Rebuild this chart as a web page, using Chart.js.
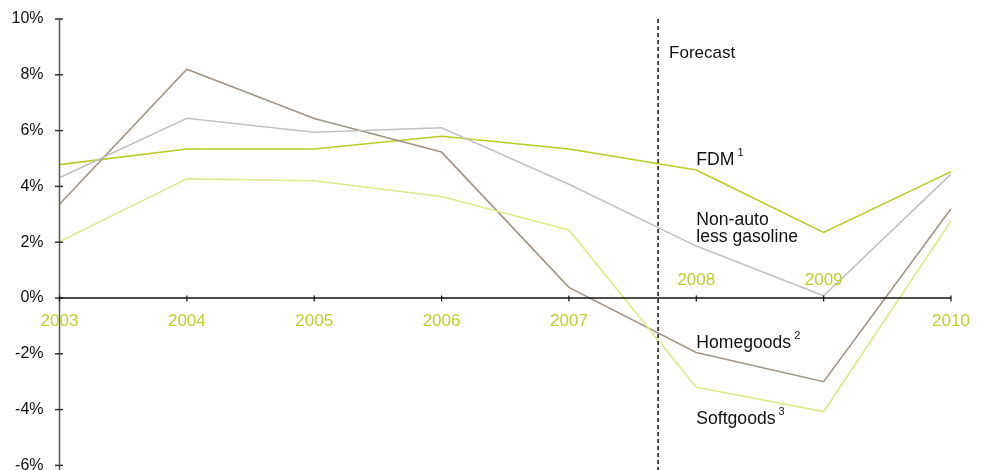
<!DOCTYPE html>
<html>
<head>
<meta charset="utf-8">
<script src="https://cdn.jsdelivr.net/npm/chart.js@4.4.1/dist/chart.umd.min.js"></script>
<style>
html,body{margin:0;padding:0;background:#fff;overflow:hidden;}
canvas{display:block;}
</style>
</head>
<body>
<canvas id="c" width="987" height="470"></canvas>
<script>
const years = ['2003','2004','2005','2006','2007','2008','2009','2010'];
const fdm = [4.78, 5.34, 5.34, 5.80, 5.34, 4.59, 2.35, 4.53];
const nonAuto = [4.31, 6.44, 5.94, 6.10, 4.08, 1.86, 0.08, 4.44];
const homegoods = [3.36, 8.20, 6.43, 5.23, 0.38, -1.95, -3.00, 3.20];
const softgoods = [2.02, 4.27, 4.20, 3.64, 2.44, -3.20, -4.07, 2.76];
const yTicks = [-6, -4, -2, 0, 2, 4, 6, 8, 10];
const forecastAt = 4.7;
const yearsAbove = ['2008','2009'];

const FONT = '"Liberation Sans", Arial, Helvetica, sans-serif';
const YEAR_COLOR = '#bfcf2e';

const overlay = {
  id: 'overlay',
  afterDraw(chart) {
    const ctx = chart.ctx;
    const x = chart.scales.x, y = chart.scales.y;
    const ca = chart.chartArea;
    const y0 = y.getPixelForValue(0);
    ctx.save();
    // y axis
    ctx.strokeStyle = '#555';
    ctx.lineWidth = 1.5;
    ctx.beginPath();
    ctx.moveTo(ca.left, ca.top);
    ctx.lineTo(ca.left, chart.height);
    ctx.stroke();
    ctx.strokeStyle = '#333';
    yTicks.forEach(v => {
      const py = y.getPixelForValue(v);
      ctx.beginPath();
      ctx.moveTo(ca.left - 4.5, py);
      ctx.lineTo(ca.left + 3.5, py);
      ctx.stroke();
    });
    // x axis at zero
    ctx.strokeStyle = '#111';
    ctx.lineWidth = 1.5;
    ctx.beginPath();
    ctx.moveTo(ca.left, y0);
    ctx.lineTo(ca.right, y0);
    ctx.stroke();
    ctx.lineWidth = 1.2;
    years.forEach((yr, i) => {
      const px = x.getPixelForValue(i);
      ctx.beginPath();
      ctx.moveTo(px, y0 - 2.5);
      ctx.lineTo(px, y0 + 3.5);
      ctx.stroke();
    });
    // year labels
    ctx.fillStyle = YEAR_COLOR;
    ctx.font = '17px ' + FONT;
    ctx.textAlign = 'center';
    ctx.textBaseline = 'alphabetic';
    years.forEach((yr, i) => {
      const px = x.getPixelForValue(i);
      if (yearsAbove.includes(yr)) ctx.fillText(yr, px, y0 - 13);
      else ctx.fillText(yr, px, y0 + 28);
    });
    // forecast divider
    const fx = x.getPixelForValue(forecastAt);
    ctx.strokeStyle = '#111';
    ctx.lineWidth = 1.5;
    ctx.setLineDash([4, 3]);
    ctx.beginPath();
    ctx.moveTo(fx, ca.top);
    ctx.lineTo(fx, chart.height);
    ctx.stroke();
    ctx.setLineDash([]);
    // annotations
    ctx.fillStyle = '#111';
    ctx.textAlign = 'left';
    ctx.font = '17px ' + FONT;
    ctx.fillText('Forecast', fx + 11, 58);
    const lx = x.getPixelForValue(5);
    const label = (txt, sup, bx, by) => {
      ctx.font = '17.6px ' + FONT;
      ctx.fillText(txt, bx, by);
      if (sup) {
        const w = ctx.measureText(txt).width;
        ctx.font = '11px ' + FONT;
        ctx.fillText(sup, bx + w + 3, by - 9);
      }
    };
    label('FDM', '1', lx, 165);
    label('Non-auto', '', lx, 225);
    label('less gasoline', '', lx, 242);
    label('Homegoods', '2', lx, 348);
    label('Softgoods', '3', lx, 424);
    ctx.restore();
  }
};

const mk = (label, data, color) => ({
  label, data, borderColor: color, backgroundColor: color,
  borderWidth: 1.6, pointRadius: 0, tension: 0, fill: false
});

new Chart(document.getElementById('c'), {
  type: 'line',
  data: {
    labels: years,
    datasets: [
      mk('Softgoods', softgoods, '#dfe98e'),
      mk('Non-auto less gasoline', nonAuto, '#c2c2c2'),
      mk('Homegoods', homegoods, '#a09488'),
      mk('FDM', fdm, '#bccb24')
    ]
  },
  options: {
    responsive: false,
    animation: false,
    events: [],
    layout: { padding: { top: 19, right: 36, bottom: 4.6, left: 0 } },
    plugins: { legend: { display: false }, tooltip: { enabled: false } },
    scales: {
      x: { type: 'category', display: false, offset: false },
      y: {
        min: -6, max: 10,
        afterFit(s) { s.width = 59.5; s.paddingTop = 0; s.paddingBottom = 0; },
        afterBuildTicks(s) { s.ticks = yTicks.map(v => ({ value: v })); },
        border: { display: false },
        grid: { display: false, drawTicks: false },
        ticks: {
          padding: 16,
          color: '#111',
          font: { family: FONT, size: 16 },
          callback: v => v + '%'
        }
      }
    }
  },
  plugins: [overlay]
});
</script>
</body>
</html>
